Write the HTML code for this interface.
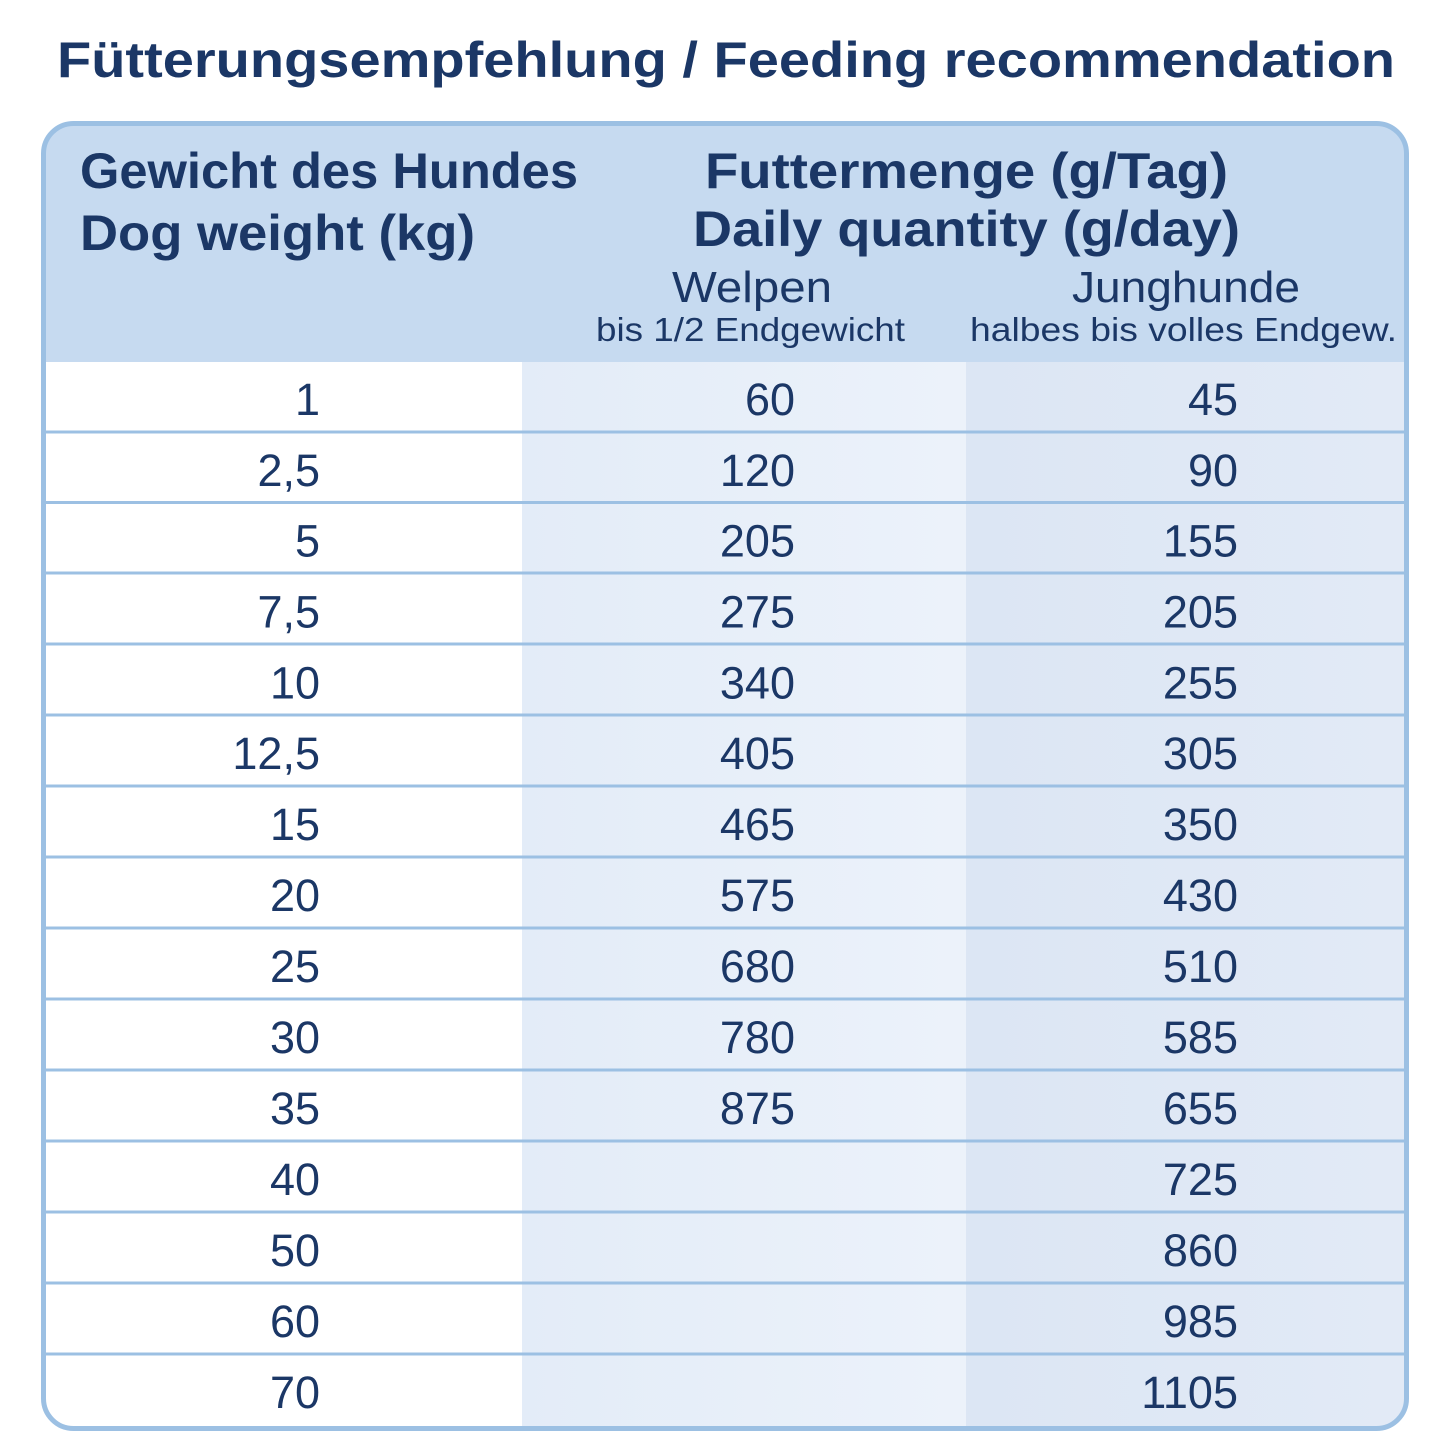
<!DOCTYPE html>
<html><head><meta charset="utf-8"><style>html,body{margin:0;padding:0;background:#fff}svg{display:block}</style></head>
<body>
<svg width="1445" height="1445" viewBox="0 0 1445 1445" xmlns="http://www.w3.org/2000/svg" font-family="Liberation Sans, sans-serif">
<defs>
<clipPath id="c"><rect x="44" y="124" width="1362" height="1304" rx="30"/></clipPath>
<linearGradient id="g2" x1="0" x2="1" y1="0" y2="0"><stop offset="0" stop-color="#e3ecf8"/><stop offset="1" stop-color="#ecf2fa"/></linearGradient>
<linearGradient id="g3" x1="0" x2="1" y1="0" y2="0"><stop offset="0" stop-color="#dce6f4"/><stop offset="1" stop-color="#e2eaf6"/></linearGradient>
</defs>
<text x="57" y="77" font-size="50" font-weight="bold" fill="#1b3766" textLength="1338" lengthAdjust="spacingAndGlyphs">Fütterungsempfehlung / Feeding recommendation</text>
<g clip-path="url(#c)">
<rect x="40" y="120" width="1370" height="1310" fill="#fff"/>
<rect x="40" y="120" width="1370" height="242" fill="#c6daf0"/>
<rect x="522" y="362" width="444" height="1070" fill="url(#g2)"/>
<rect x="966" y="362" width="444" height="1070" fill="url(#g3)"/>
<g stroke="#9cc0e3" stroke-width="3">
<line x1="40" x2="1410" y1="432" y2="432"/><line x1="40" x2="1410" y1="502.5" y2="502.5"/>
<line x1="40" x2="1410" y1="573" y2="573"/><line x1="40" x2="1410" y1="644" y2="644"/>
<line x1="40" x2="1410" y1="715" y2="715"/><line x1="40" x2="1410" y1="786" y2="786"/>
<line x1="40" x2="1410" y1="857" y2="857"/><line x1="40" x2="1410" y1="928" y2="928"/>
<line x1="40" x2="1410" y1="999" y2="999"/><line x1="40" x2="1410" y1="1070" y2="1070"/>
<line x1="40" x2="1410" y1="1141" y2="1141"/><line x1="40" x2="1410" y1="1212" y2="1212"/>
<line x1="40" x2="1410" y1="1283" y2="1283"/><line x1="40" x2="1410" y1="1354" y2="1354"/>
</g>
</g>
<rect x="43.5" y="123.5" width="1363" height="1305" rx="30" fill="none" stroke="#9cc0e3" stroke-width="5"/>
<g fill="#1b3766">
<text x="80" y="188" font-size="50" font-weight="bold" textLength="498" lengthAdjust="spacingAndGlyphs">Gewicht des Hundes</text>
<text x="80" y="250" font-size="50" font-weight="bold" textLength="395" lengthAdjust="spacingAndGlyphs">Dog weight (kg)</text>
<text x="705" y="188" font-size="50" font-weight="bold" textLength="523" lengthAdjust="spacingAndGlyphs">Futtermenge (g/Tag)</text>
<text x="693" y="246" font-size="50" font-weight="bold" textLength="547" lengthAdjust="spacingAndGlyphs">Daily quantity (g/day)</text>
<text x="672" y="302" font-size="44" textLength="160" lengthAdjust="spacingAndGlyphs">Welpen</text>
<text x="1072" y="302" font-size="44" textLength="228" lengthAdjust="spacingAndGlyphs">Junghunde</text>
<text x="596" y="341" font-size="33" textLength="309" lengthAdjust="spacingAndGlyphs">bis 1/2 Endgewicht</text>
<text x="970" y="341" font-size="33" textLength="427" lengthAdjust="spacingAndGlyphs">halbes bis volles Endgew.</text>
</g>
<g fill="#1b3766" font-size="45" text-anchor="end">
<g transform="translate(0,415)">
<text x="320" y="0">1</text><text x="795" y="0">60</text><text x="1238" y="0">45</text>
<text x="320" y="71">2,5</text><text x="795" y="71">120</text><text x="1238" y="71">90</text>
<text x="320" y="141.5">5</text><text x="795" y="141.5">205</text><text x="1238" y="141.5">155</text>
<text x="320" y="212.5">7,5</text><text x="795" y="212.5">275</text><text x="1238" y="212.5">205</text>
<text x="320" y="283.5">10</text><text x="795" y="283.5">340</text><text x="1238" y="283.5">255</text>
<text x="320" y="354">12,5</text><text x="795" y="354">405</text><text x="1238" y="354">305</text>
<text x="320" y="425">15</text><text x="795" y="425">465</text><text x="1238" y="425">350</text>
<text x="320" y="496">20</text><text x="795" y="496">575</text><text x="1238" y="496">430</text>
<text x="320" y="567">25</text><text x="795" y="567">680</text><text x="1238" y="567">510</text>
<text x="320" y="638">30</text><text x="795" y="638">780</text><text x="1238" y="638">585</text>
<text x="320" y="709">35</text><text x="795" y="709">875</text><text x="1238" y="709">655</text>
<text x="320" y="780">40</text><text x="1238" y="780">725</text>
<text x="320" y="851">50</text><text x="1238" y="851">860</text>
<text x="320" y="922">60</text><text x="1238" y="922">985</text>
<text x="320" y="993">70</text><text x="1238" y="993">1105</text>
</g>
</g>
</svg>
</body></html>
